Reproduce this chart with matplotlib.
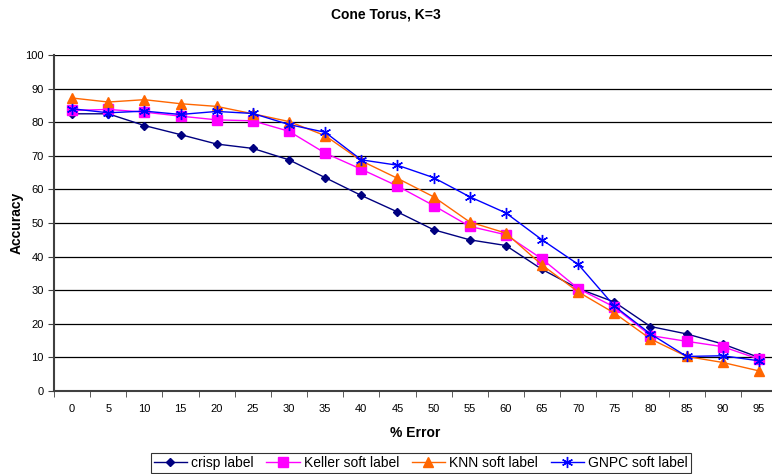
import numpy as np
import matplotlib.pyplot as plt

plt.rcParams['font.family'] = ['Liberation Sans', 'DejaVu Sans']

## data
error = [0, 5, 10, 15, 20, 25, 30, 35, 40, 45, 50, 55, 60, 65, 70, 75, 80, 85, 90, 95]
crisp = [82.5, 82.5, 79, 76.3, 73.5, 72.2, 68.8, 63.5, 58.2, 53.3, 48, 45, 43.3, 36.2, 30.5, 26.5, 19.2, 17, 14, 10]
keller = [83.5, 83.8, 83, 81.8, 80.7, 80.4, 77.3, 70.8, 66, 61, 55.2, 49, 46.5, 39.3, 30.5, 25, 16.5, 14.8, 13.2, 9.5]
knn = [87.2, 86, 86.7, 85.5, 84.7, 82.5, 80.2, 76, 68.5, 63.3, 57.8, 50.3, 47, 37.5, 29.5, 23.2, 15.5, 10.3, 8.5, 6]
gnpc = [84, 82.8, 83.3, 82.3, 83.2, 82.6, 79.3, 77, 68.8, 67.2, 63.5, 57.8, 53, 45, 37.7, 25.3, 17, 10.3, 10.5, 9]

fig = plt.figure(figsize=(7.72, 4.74), dpi=100, facecolor='#FFFFFF')
## plot area runs a bit past the right edge, as in the original
ax = fig.add_axes([0.07, 0.175, 0.9365, 0.709])

x = np.arange(len(error))
ax.plot(x, crisp, '-', color='#000080', marker='D', ms=4.5, lw=1, label='crisp label')
ax.plot(x, keller, '-', color='#FF00FF', marker='s', ms=6.5, lw=1, label='Keller soft label')
ax.plot(x, knn, '-', color='#FF6600', marker='^', ms=6.5, lw=1, label='KNN soft label')
ax.plot(x, gnpc, '-', color='#0000FF', marker=(6, 2, 0), ms=8, mew=1, lw=1, label='GNPC soft label')

## axes like excel
ax.set_xlim(-0.5, len(error) - 0.5)
ax.set_ylim(0, 100)
ax.set_yticks(np.arange(0, 101, 10))
ax.set_xticks(x)
ax.set_xticklabels([str(e) for e in error], fontsize=8)
ax.set_xticks(np.arange(-0.5, len(error), 1), minor=True)
ax.tick_params(axis='x', which='major', length=0, pad=9)
ax.tick_params(axis='x', which='minor', length=4, color='#404040')
ax.tick_params(axis='y', length=4, color='#404040', labelsize=8)
ax.yaxis.grid(True, color='black', lw=0.9)
ax.set_axisbelow(True)
for s in ['top', 'right']:
    ax.spines[s].set_visible(False)
ax.spines['left'].set_color('#404040')
ax.spines['left'].set_linewidth(1.5)
ax.spines['bottom'].set_color('#404040')
ax.spines['bottom'].set_linewidth(1.5)

ax.set_xlabel('% Error', fontsize=10, fontweight='bold', labelpad=9)
ax.set_ylabel('Accuracy', fontsize=10, fontweight='bold', labelpad=1)
fig.suptitle('Cone Torus, K=3', fontsize=10, fontweight='bold', y=0.985)

leg = fig.legend(loc='center', bbox_to_anchor=(0.545, 0.023), ncol=4, fontsize=10, frameon=True,
                 fancybox=False, edgecolor='black', handlelength=2.4, handletextpad=0.3,
                 columnspacing=0.9, borderpad=0.2, borderaxespad=0)
leg.get_frame().set_linewidth(0.8)

fig.savefig('out.png', dpi=100)
